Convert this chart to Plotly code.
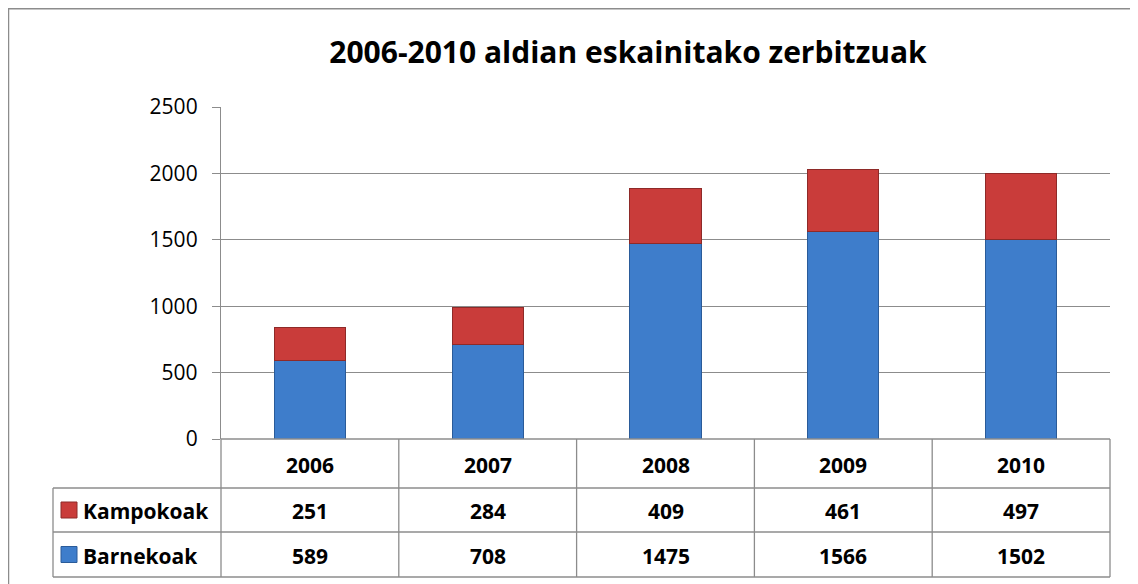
import plotly.graph_objects as go

years = ["2006", "2007", "2008", "2009", "2010"]
barnekoak = [589, 708, 1475, 1566, 1502]
kampokoak = [251, 284, 409, 461, 497]
title = "2006-2010 aldian eskainitako zerbitzuak"

OFF = 8  # page body margin
W, H = 1138 - OFF, 584 - OFF
L, R, T, B = 221, 1110, 107, 439  # plot area in page px
pw, ph = R - L, B - T

def px(x):
    return (x - L) / pw

def py(y):
    return (B - y) / ph

blue = "#3E7DCB"
red = "#C93C3A"
grid = "#8C8C8C"
font = "Open Sans"

fig = go.Figure()
fig.add_trace(go.Bar(x=years, y=barnekoak, name="Barnekoak",
                     marker=dict(color=blue, line=dict(color="#2A5B99", width=1))))
fig.add_trace(go.Bar(x=years, y=kampokoak, name="Kampokoak",
                     marker=dict(color=red, line=dict(color="#8E2A28", width=1))))

shapes = []
annotations = []

shapes.append(dict(type="rect", xref="paper", yref="paper",
                   x0=px(8.5), x1=px(1160), y0=py(8.8), y1=py(600),
                   line=dict(color="#8C8C8C", width=1.5), layer="below"))

row_y = [439, 488, 532, 577]
col_x = [L + pw * i / 5 for i in range(6)]
lab_x0 = 53
line_st = dict(color=grid, width=1.3)
shapes.append(dict(type="line", xref="paper", yref="paper", x0=px(L), x1=px(R), y0=py(439), y1=py(439), line=line_st))
for yy in row_y[1:]:
    shapes.append(dict(type="line", xref="paper", yref="paper", x0=px(lab_x0), x1=px(R), y0=py(yy), y1=py(yy), line=line_st))
for xx in col_x:
    shapes.append(dict(type="line", xref="paper", yref="paper", x0=px(xx), x1=px(xx), y0=py(439), y1=py(577), line=line_st))
shapes.append(dict(type="line", xref="paper", yref="paper", x0=px(lab_x0), x1=px(lab_x0), y0=py(488), y1=py(577), line=line_st))

tf = dict(family=font, size=21, color="#000000")
def ann(x, y, text, xanchor="center"):
    annotations.append(dict(x=px(x), y=py(y), xref="paper", yref="paper", text=text, showarrow=False,
                            xanchor=xanchor, yanchor="middle", font=tf))

for i, yv in enumerate(years):
    cx = (col_x[i] + col_x[i + 1]) / 2
    ann(cx, (439 + 488) / 2 + 1, "<b>%s</b>" % yv)
    ann(cx, (488 + 532) / 2 + 1, "<b>%d</b>" % kampokoak[i])
    ann(cx, (532 + 577) / 2 + 1, "<b>%d</b>" % barnekoak[i])

for (y0, y1), name, col, lc in [((488, 532), "Kampokoak", red, "#8E2A28"), ((532, 577), "Barnekoak", blue, "#2A5B99")]:
    cy = (y0 + y1) / 2
    shapes.append(dict(type="rect", xref="paper", yref="paper", x0=px(61), x1=px(77), y0=py(cy - 8), y1=py(cy + 8),
                       fillcolor=col, line=dict(color=lc, width=1)))
    ann(81, cy + 1, "<b>%s</b>" % name, xanchor="left")

fig.update_layout(
    width=W, height=H,
    margin=dict(l=L - OFF, r=W - (R - OFF), t=T - OFF, b=H - (B - OFF), pad=0),
    barmode="stack", bargap=0.6,
    paper_bgcolor="white", plot_bgcolor="white",
    showlegend=False,
    title=dict(text="<b>%s</b>" % title, x=(628 - OFF) / W, xanchor="center", y=1 - (52 - OFF) / H, yanchor="middle",
               font=dict(family=font, size=30, color="#000000")),
    xaxis=dict(showticklabels=False, showgrid=False, showline=False, zeroline=False, ticks=""),
    yaxis=dict(range=[0, 2500], dtick=500, showgrid=True, gridcolor=grid, gridwidth=1.3,
               showline=True, linecolor=grid, linewidth=1.3, ticks="outside", ticklen=8, tickcolor=grid,
               tickfont=dict(family=font, size=21, color="#000000"), zeroline=False, ticklabelstandoff=10),
    shapes=shapes, annotations=annotations,
)

fig.write_html("out.html")
